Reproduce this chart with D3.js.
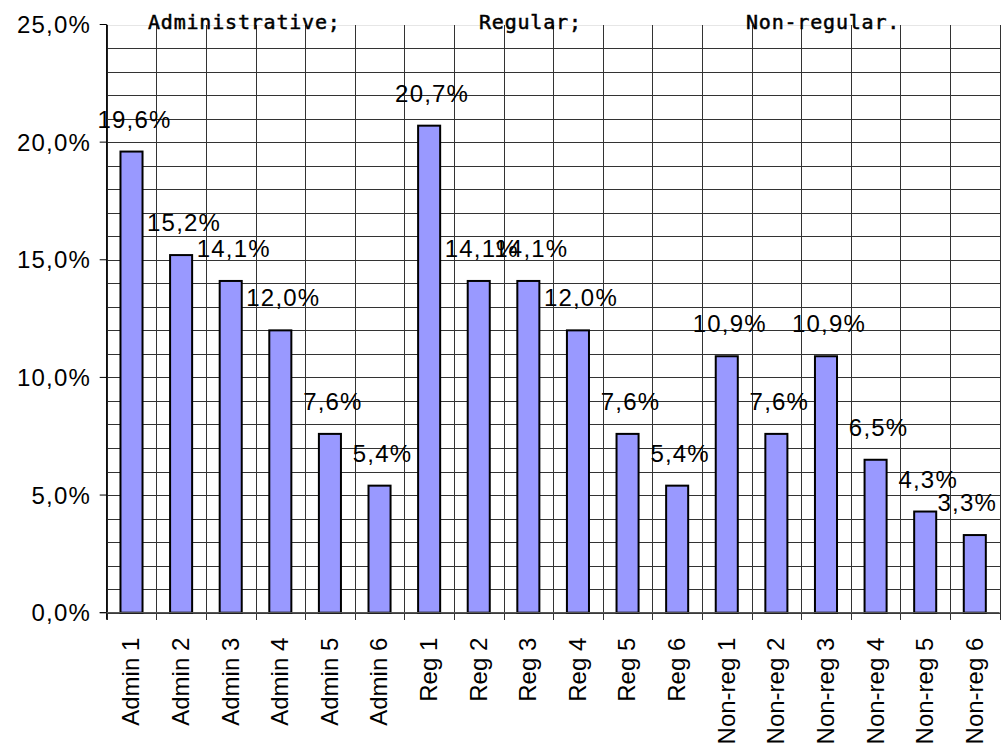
<!DOCTYPE html>
<html>
<head>
<meta charset="utf-8">
<script src="https://cdn.jsdelivr.net/npm/d3@7"></script>
<style>
  body { margin: 0; background: #fff; }
  text { font-family: "Liberation Sans", Arial, sans-serif; fill: #000; }
</style>
</head>
<body>
<script>
// data
var categories = ["Admin 1", "Admin 2", "Admin 3", "Admin 4", "Admin 5", "Admin 6",
                  "Reg 1", "Reg 2", "Reg 3", "Reg 4", "Reg 5", "Reg 6",
                  "Non-reg 1", "Non-reg 2", "Non-reg 3", "Non-reg 4", "Non-reg 5", "Non-reg 6"];
var values = [19.6, 15.2, 14.1, 12.0, 7.6, 5.4,
              20.7, 14.1, 14.1, 12.0, 7.6, 5.4,
              10.9, 7.6, 10.9, 6.5, 4.3, 3.3];
var groupTitles = ["Administrative;", "Regular;", "Non-regular."];
var yTickValues = [0, 5, 10, 15, 20, 25];

var svg = d3.select("body").append("svg")
        .attr("width", 1005)
        .attr("height", 744);

var margin = {top: 24.5, left: 106.7, right: 5.4, bottom: 131.3};
var width = 1005, height = 744;

var x = d3.scaleBand()
        .domain(categories)
        .range([margin.left, width - margin.right])
        .paddingInner(0).paddingOuter(0);
var y = d3.scaleLinear()
        .domain([0, 25])
        .range([height - margin.bottom, margin.top]);

var locale = d3.formatLocale({decimal: ",", thousands: ".", grouping: [3], currency: ["", ""]});
var fmt = function(v) { return locale.format(".1f")(v) + "%"; };

var grid = svg.append("g").attr("shape-rendering", "crispEdges");

// horizontal gridlines every 1%
grid.selectAll("line.h")
    .data(y.ticks(25))
    .enter().append("line")
    .attr("class", "h")
    .attr("x1", margin.left).attr("x2", width - margin.right)
    .attr("y1", function(d) { return Math.round(y(d)) + 0.5; })
    .attr("y2", function(d) { return Math.round(y(d)) + 0.5; })
    .attr("stroke", function(d) { return d == 25 ? "#e6e6e6" : "#333"; })
    .attr("stroke-width", 1);

// vertical gridlines at category boundaries (with ticks below axis)
var bounds = categories.map(function(c) { return x(c); }).concat([x.range()[1]]);
grid.selectAll("line.v")
    .data(bounds)
    .enter().append("line")
    .attr("class", "v")
    .attr("x1", function(d) { return Math.round(d) + 0.5; })
    .attr("x2", function(d) { return Math.round(d) + 0.5; })
    .attr("y1", margin.top)
    .attr("y2", y(0) + 7)
    .attr("stroke", "#333")
    .attr("stroke-width", 1);

// title
var titleX = [148, 479, 746];
svg.selectAll("text.title")
    .data(groupTitles)
    .enter().append("text")
    .attr("class", "title")
    .attr("x", function(d, i) { return titleX[i]; })
    .attr("y", 29)
    .style("font-family", "'DejaVu Sans Mono', monospace")
    .style("font-size", "20px")
    .style("letter-spacing", "0.8px")
    .style("stroke", "#000")
    .style("stroke-width", "0.5px")
    .text(function(d) { return d; });

// bars
var bw = x.bandwidth() / 2.25;
svg.selectAll("rect.bar")
    .data(values)
    .enter().append("rect")
    .attr("class", "bar")
    .attr("x", function(d, i) { return x(categories[i]) + x.bandwidth() / 2 - bw / 2; })
    .attr("y", function(d) { return y(d); })
    .attr("width", bw)
    .attr("height", function(d) { return y(0) - y(d); })
    .attr("fill", "#9999ff")
    .attr("stroke", "#000")
    .attr("stroke-width", 2);

// axis lines
svg.append("line")
    .attr("x1", margin.left).attr("x2", margin.left)
    .attr("y1", margin.top).attr("y2", y(0) + 7)
    .attr("stroke", "#000").attr("stroke-width", 1.3);
svg.append("line")
    .attr("x1", margin.left - 7).attr("x2", width - margin.right)
    .attr("y1", y(0)).attr("y2", y(0))
    .attr("stroke", "#555").attr("stroke-width", 1.3);

// y axis ticks + labels
var yax = svg.append("g");
yax.selectAll("line")
    .data(yTickValues)
    .enter().append("line")
    .attr("x1", margin.left - 7).attr("x2", margin.left)
    .attr("y1", function(d) { return y(d); })
    .attr("y2", function(d) { return y(d); })
    .attr("stroke", "#000");
yax.selectAll("text")
    .data(yTickValues)
    .enter().append("text")
    .attr("x", 91)
    .attr("y", function(d) { return y(d); })
    .attr("dy", "0.36em")
    .attr("text-anchor", "end")
    .style("font-size", "24px")
    .style("letter-spacing", "1.2px")
    .text(function(d) { return fmt(d); });

// x labels
svg.selectAll("text.xl")
    .data(categories)
    .enter().append("text")
    .attr("class", "xl")
    .attr("transform", function(d) {
        return "translate(" + (x(d) + x.bandwidth() / 2) + "," + (y(0) + 25) + ") rotate(-90)";
    })
    .attr("dy", "0.33em")
    .attr("text-anchor", "end")
    .style("font-size", "24px")
    .text(function(d) { return d; });

// value labels
var labels = svg.selectAll("text.val")
    .data(values)
    .enter().append("text")
    .attr("class", "val")
    .attr("y", function(d) { return y(d) - 24; })
    .attr("text-anchor", "middle")
    .style("font-size", "24px")
    .style("letter-spacing", "1.2px")
    .text(function(d) { return fmt(d); });

labels.attr("x", function(d, i) {
    var cx = x(categories[i]) + x.bandwidth() / 2 + 3;
    var half = this.getComputedTextLength() / 2;
    return Math.min(cx, width - 8 - half);
});
</script>
</body>
</html>
